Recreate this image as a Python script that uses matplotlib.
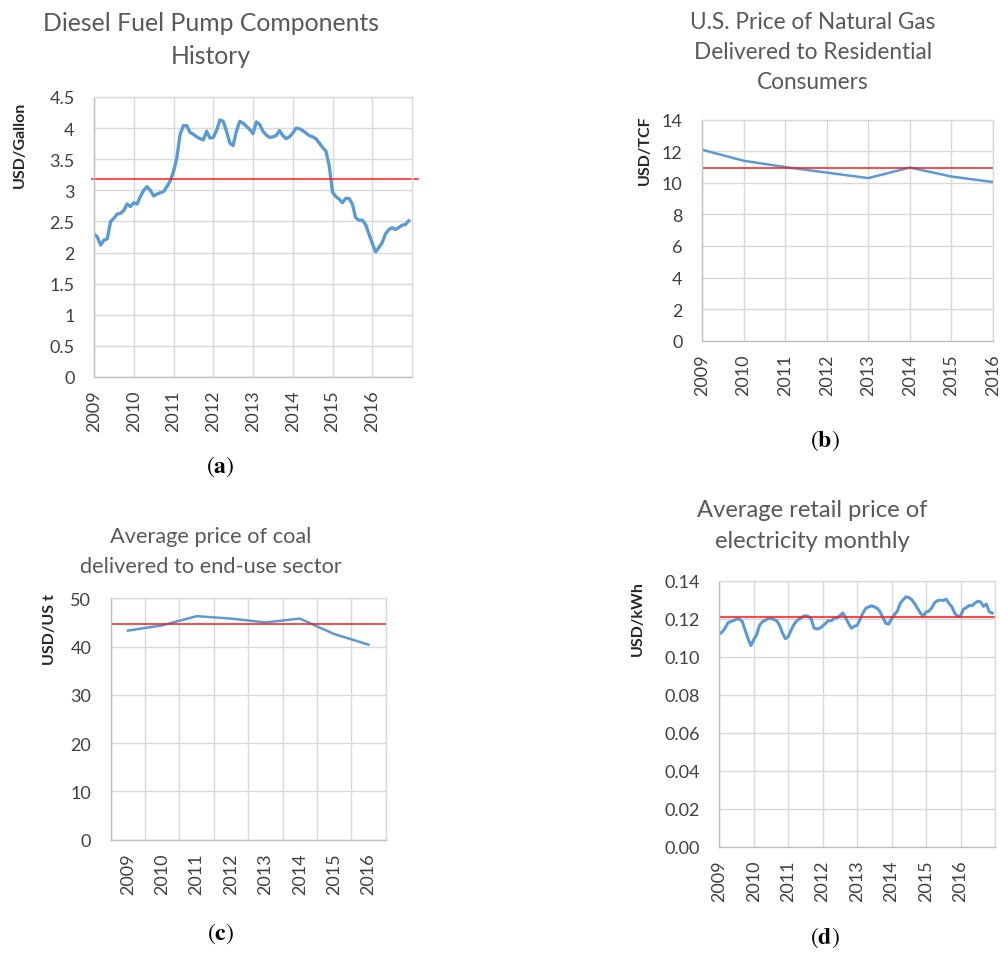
import matplotlib
matplotlib.use('Agg')
import matplotlib.pyplot as plt
import numpy as np

plt.rcParams['font.family'] = ['Lato', 'DejaVu Sans']
plt.rcParams['mathtext.fontset'] = 'stix'

# ---------------- data ----------------
years = ['2009', '2010', '2011', '2012', '2013', '2014', '2015', '2016']

# (a) monthly diesel price, Jan 2009 - Dec 2016, USD/gallon
diesel_price = [
    2.30, 2.25, 2.12, 2.20, 2.22, 2.50, 2.55, 2.62, 2.63, 2.68, 2.78, 2.74,
    2.80, 2.78, 2.90, 3.00, 3.06, 3.00, 2.91, 2.94, 2.96, 2.98, 3.06, 3.15,
    3.30, 3.52, 3.90, 4.04, 4.04, 3.93, 3.90, 3.86, 3.83, 3.81, 3.95, 3.84,
    3.85, 3.96, 4.13, 4.11, 3.95, 3.76, 3.72, 3.95, 4.11, 4.08, 4.03, 3.98,
    3.91, 4.10, 4.06, 3.95, 3.89, 3.85, 3.86, 3.88, 3.96, 3.88, 3.83, 3.86,
    3.92, 4.00, 3.99, 3.96, 3.92, 3.88, 3.86, 3.83, 3.76, 3.69, 3.63, 3.40,
    2.97, 2.90, 2.86, 2.80, 2.87, 2.87, 2.78, 2.56, 2.52, 2.52, 2.45, 2.30,
    2.15, 2.01, 2.08, 2.16, 2.30, 2.37, 2.40, 2.37, 2.40, 2.44, 2.45, 2.51,
]
diesel_avg = 3.19

# (b) natural gas, USD/TCF
gas_price = [12.1, 11.4, 11.0, 10.65, 10.3, 10.97, 10.4, 10.05]
gas_avg = 10.95

# (c) coal, USD/US t
coal_price = [43.3, 44.4, 46.3, 45.8, 45.0, 45.8, 42.6, 40.4]
coal_avg = 44.7

# (d) monthly electricity, USD/kWh
elec_price = [
    0.1119, 0.1130, 0.1150, 0.1178, 0.1185, 0.1190, 0.1198, 0.1198, 0.1185, 0.1140, 0.1095, 0.1058,
    0.1090, 0.1115, 0.1165, 0.1183, 0.1192, 0.1200, 0.1202, 0.1196, 0.1189, 0.1165, 0.1125, 0.1095,
    0.1105, 0.1140, 0.1170, 0.1189, 0.1200, 0.1210, 0.1216, 0.1212, 0.1200, 0.1150, 0.1146, 0.1150,
    0.1162, 0.1175, 0.1190, 0.1189, 0.1202, 0.1205, 0.1216, 0.1230, 0.1205, 0.1175, 0.1150, 0.1160,
    0.1165, 0.1195, 0.1230, 0.1254, 0.1262, 0.1268, 0.1262, 0.1255, 0.1236, 0.1205, 0.1175, 0.1172,
    0.1200, 0.1222, 0.1240, 0.1280, 0.1300, 0.1315, 0.1312, 0.1300, 0.1280, 0.1255, 0.1230, 0.1214,
    0.1235, 0.1240, 0.1258, 0.1285, 0.1295, 0.1298, 0.1296, 0.1303, 0.1280, 0.1262, 0.1228, 0.1212,
    0.1215, 0.1250, 0.1258, 0.1270, 0.1268, 0.1282, 0.1292, 0.1288, 0.1265, 0.1277, 0.1236, 0.1230,
]
elec_avg = 0.121

# ---------------- style ----------------
W, H = 1000, 954
fig = plt.figure(figsize=(W / 100, H / 100), dpi=100)
renderer = fig.canvas.get_renderer()

BLUE = '#5B9BD5'
RED = '#ff1a1a'
GRID = '#d9d9d9'
AXIS = '#bfbfbf'
TICK = '#404040'
TITLE = '#595959'


def axes_px(l, t, r, b):
    return fig.add_axes([l / W, 1 - b / H, (r - l) / W, (b - t) / H])


def style(ax):
    ax.set_axisbelow(True)
    ax.grid(True, color=GRID, lw=1.0)
    for s in ax.spines.values():
        s.set_color(GRID)
        s.set_linewidth(1.0)
    ax.spines['bottom'].set_color(AXIS)
    ax.spines['left'].set_color(AXIS)
    ax.tick_params(axis='both', which='both', length=0, labelsize=13, colors=TICK)
    ax.tick_params(axis='y', pad=14)
    ax.tick_params(axis='x', pad=9, labelrotation=90)


def title_lines(lines, cx, baselines, target_w):
    texts = [fig.text(cx / W, 1 - yb / H, txt, ha='center', va='baseline',
                      fontsize=16, color=TITLE)
             for txt, yb in zip(lines, baselines)]
    w = texts[0].get_window_extent(renderer).width
    size = 16 * target_w / w
    for t in texts:
        t.set_fontsize(size)


def ylab(txt, cx, cy):
    fig.text(cx / W, 1 - cy / H, txt, rotation=90, ha='center', va='center',
             fontsize=11.5, fontweight='bold', color='#262626')


def plabel(letter, cx, cy):
    fig.text(cx / W, 1 - cy / H, r'$(\mathbf{%s})$' % letter, ha='center', va='center',
             fontsize=17, color='black')


# ---------------- (a) ----------------
ax = axes_px(94, 98, 412, 378)
style(ax)
ax.plot(np.arange(len(diesel_price)), diesel_price, color=BLUE, lw=2.4, solid_joinstyle='round')
ax.axhline(diesel_avg, xmin=-0.006, xmax=1.019, color=RED, lw=1.1, clip_on=False)
ax.set_xlim(0, 96)
ax.set_ylim(0, 4.5)
ax.set_xticks(np.arange(0, 96, 12))
ax.set_xticklabels(years)
yt = np.arange(0, 4.51, 0.5)
ax.set_yticks(yt)
ax.set_yticklabels([f'{v:g}' for v in yt])
title_lines(['Diesel Fuel Pump Components', 'History'], 211, [30.7, 64], 337)
ylab('USD/Gallon', 20, 145)
plabel('a', 220, 467)

# ---------------- (b) ----------------
ax = axes_px(702, 120.7, 993, 341.7)
style(ax)
ax.plot(np.arange(len(gas_price)), gas_price, color=BLUE, lw=1.8)
ax.axhline(gas_avg, color=RED, lw=1.1)
ax.set_xlim(0, 7)
ax.set_ylim(0, 14)
ax.set_xticks(np.arange(len(years)))
ax.set_xticklabels(years)
ax.set_yticks(np.arange(0, 15, 2))
title_lines(['U.S. Price of Natural Gas', 'Delivered to Residential', 'Consumers'], 813,
            [29.3, 59.3, 89.3], 246)
ylab('USD/TCF', 645, 150)
plabel('b', 825, 441)

# ---------------- (c) ----------------
ax = axes_px(110.7, 599.3, 385.7, 840.7)
style(ax)
xc = np.arange(len(coal_price)) + 0.5
ax.plot(xc, coal_price, color=BLUE, lw=1.8)
ax.axhline(coal_avg, color=RED, lw=1.1)
ax.set_xlim(0, 8)
ax.set_ylim(0, 50)
ax.set_xticks(xc)
ax.set_xticklabels(years)
ax.set_xticks(np.arange(0, 9), minor=True)
ax.xaxis.grid(False, which='major')
ax.xaxis.grid(True, which='minor', color=GRID, lw=1.0)
ax.set_yticks(np.arange(0, 51, 10))
title_lines(['Average price of coal', 'delivered to end-use sector'], 211, [543.3, 572.7], 202)
ylab('USD/US t', 50, 630)
plabel('c', 221, 934)

# ---------------- (d) ----------------
ax = axes_px(719.3, 581.7, 995, 847.7)
style(ax)
ax.plot(np.arange(len(elec_price)), elec_price, color=BLUE, lw=2.2, solid_joinstyle='round')
ax.axhline(elec_avg, color=RED, lw=1.5, alpha=0.8)
ax.set_xlim(0, 96)
ax.set_ylim(0, 0.14)
ax.set_xticks(np.arange(0, 96, 12))
ax.set_xticklabels(years)
yt = np.arange(0, 0.141, 0.02)
ax.set_yticks(yt)
ax.set_yticklabels([f'{v:.2f}' for v in yt])
title_lines(['Average retail price of', 'electricity monthly'], 812.5, [516.7, 548.3], 232)
ylab('USD/kWh', 638, 619)
plabel('d', 825, 938)

fig.savefig('out.png', dpi=100)
